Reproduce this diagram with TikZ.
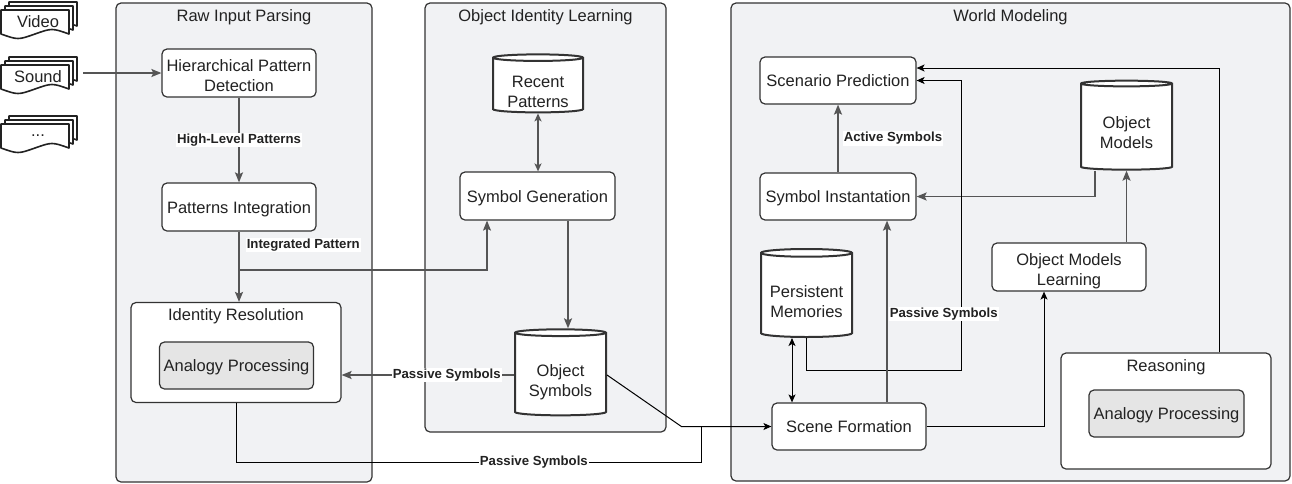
\documentclass[tikz,border=0pt]{standalone}
\usepackage{fontspec}
\setmainfont{Liberation Sans}
\usetikzlibrary{arrows.meta, positioning, shapes.geometric}

\definecolor{panelgrey}{HTML}{F1F2F4}
\definecolor{edgegrey}{HTML}{333333}
\definecolor{txt}{HTML}{222222}
\definecolor{linegrey}{HTML}{555555}
\definecolor{greybox}{HTML}{E5E5E5}

\tikzset{
  panel/.style={draw=edgegrey, fill=panelgrey, rounded corners=5pt, line width=1.2pt},
  block/.style={draw=edgegrey, fill=white, rounded corners=5pt, line width=1.2pt,
    minimum width=154pt, minimum height=48pt, align=center, inner sep=2pt,
    text height=12.8pt, text depth=0pt},
  twoline/.style={text height=36.8pt, text depth=0pt},
  store/.style={cylinder, shape border rotate=90, aspect=0.1, draw=edgegrey, fill=white,
    line width=2pt, align=center, inner sep=2pt, text height=42pt, text depth=0pt},
  flow/.style={draw=linegrey, line width=1.6pt, -{Stealth[length=10pt,width=8pt,inset=2pt]}},
  wire/.style={draw=black, line width=1pt, -{Stealth[length=8pt,width=7pt,inset=2pt]}},
  twoway/.style={line width=1pt, {Stealth[length=8pt,width=7pt,inset=2pt]}-{Stealth[length=8pt,width=7pt,inset=2pt]}},
  lbl/.style={fill=white, inner sep=1pt, font=\bfseries\fontsize{13.2}{15}\selectfont},
  hdr/.style={anchor=base, yshift=-19pt, text height=, text depth=},
  sheet/.style={draw=txt, fill=white, line width=1.6pt, line join=round},
}

% three stacked wavy sheets, back one at (#1+8,#2)
\newcommand{\sheetstack}[2]{%
  \foreach \k in {0,4,8} {
    \begin{scope}[shift={(#1+8-\k,#2+\k)}]
      \filldraw[sheet] (0,0) -- (68,0) -- (68,24) .. controls (51,18) .. (34,24)
        .. controls (17,30) .. (0,24) -- cycle;
    \end{scope}}}

\begin{document}
\begin{tikzpicture}[x=1pt, y=-1pt, every node/.style={text=txt, font=\fontsize{16.5}{20}\selectfont}]
  \useasboundingbox (0,0) rectangle (1292,483);

  % inputs
  \sheetstack{1}{2}
  \node (video) at (38,22) {Video};
  \sheetstack{1}{57}
  \node (sound) at (38,77) {Sound};
  \sheetstack{1}{116}
  \node (more) at (38,136) {...};
  \coordinate (soundout) at (83,73);

  % Raw Input Parsing
  \node[panel, minimum width=256pt, minimum height=479pt, label={[hdr]north:Raw Input Parsing}] (rawbox) at (244,242.5) {};
  \node[block, twoline] (hpd) at (239,73) {Hierarchical Pattern\\Detection};
  \node[block] (pint) at (239,207) {Patterns Integration};
  \node[block, minimum width=210pt, minimum height=100pt, label={[hdr]north:Identity Resolution}] (idres) at (236,352.5) {};
  \node[block, fill=greybox, minimum height=47pt] (analog) at (236.5,365.5) {Analogy Processing};

  % Object Identity Learning
  \node[panel, minimum width=241pt, minimum height=429pt, label={[hdr]north:Object Identity Learning}] (oilbox) at (545.5,217.5) {};
  \node[store, minimum width=90pt, minimum height=58pt] (recent) at (538,86) {Recent\\Patterns};
  \node[block, minimum width=155pt] (symgen) at (537.5,196) {Symbol Generation};
  \node[store, minimum width=91pt, minimum height=86pt] (objsym) at (560.5,375) {Object\\Symbols};

  % World Modeling
  \node[panel, minimum width=559pt, minimum height=478pt, label={[hdr]north:World Modeling}] (worldbox) at (1010.5,242) {};
  \node[block, minimum width=156pt, minimum height=47pt] (scenario) at (838,80.5) {Scenario Prediction};
  \node[block, minimum width=156pt, minimum height=47pt] (instant) at (838,196.5) {Symbol Instantation};
  \node[store, minimum width=91pt, minimum height=89pt] (objmod) at (1126.5,127.5) {Object\\Models};
  \node[store, minimum width=91pt, minimum height=88pt] (persist) at (806.5,296) {Persistent\\Memories};
  \node[block, minimum height=47pt] (scene) at (849,426.5) {Scene Formation};
  \node[block, twoline] (modlearn) at (1069,267) {Object Models\\Learning};
  \node[block, minimum width=210pt, minimum height=116pt, label={[hdr]north:Reasoning}] (reason) at (1166,411) {};
  \node[block, fill=greybox, minimum width=155pt, minimum height=47pt] (analogB) at (1166.5,413.5) {Analogy Processing};

  % connectors
  \draw[flow] (soundout) -- (hpd.west);
  \draw[flow] (hpd) -- node[lbl]{High-Level Patterns} (pint);
  \draw[flow] (pint.south) -- node[lbl, anchor=west, pos=0.19, xshift=6pt]{Integrated Pattern} (pint.south |- idres.north);
  \draw[flow, line width=1.2pt] (pint.south |- 0,270) -| ([xshift=-50.5pt]symgen.south);
  \draw[twoway, draw=linegrey, line width=1.4pt] (recent.south) -- (recent.south |- symgen.north);
  \draw[flow] ([xshift=30.5pt]symgen.south) -- ([xshift=30.5pt]symgen.south |- objsym.north);
  \draw[flow] (objsym.west) -- node[lbl, pos=0.39]{Passive Symbols} (objsym.west -| idres.east);

  \coordinate (join) at ([xshift=-70pt]scene.west);
  \draw[wire] (objsym.east) -- ([xshift=-90pt]scene.west) -- (scene.west);
  \draw[line width=1pt] (idres.south) |- node[lbl, pos=0.82]{Passive Symbols} (join |- 0,462) -- (join);

  \draw[flow] (instant) -- node[lbl, anchor=west, xshift=4pt]{Active Symbols} (scenario);
  \draw[flow] ([xshift=-31.5pt]objmod.south) |- (instant.east);
  \draw[twoway] ([xshift=-14.5pt]persist.south) -- ([xshift=-14.5pt]persist.south |- scene.north);
  \draw[wire] (persist.south) -- ++(0,32) -| ([xshift=45pt]scenario.east) -- (scenario.east);
  \draw[flow] ([xshift=38pt]scene.north) -- node[lbl, anchor=west, pos=0.486, xshift=1pt]{Passive Symbols} ([xshift=38pt]scene.north |- instant.south);
  \draw[wire] ([xshift=53pt]reason.north) |- ([yshift=12.5pt]scenario.east);
  \draw[wire] (scene.east) -| ([xshift=-25pt]modlearn.south);
  \draw[flow] (objmod.south |- modlearn.north) -- (objmod.south);
\end{tikzpicture}
\end{document}
